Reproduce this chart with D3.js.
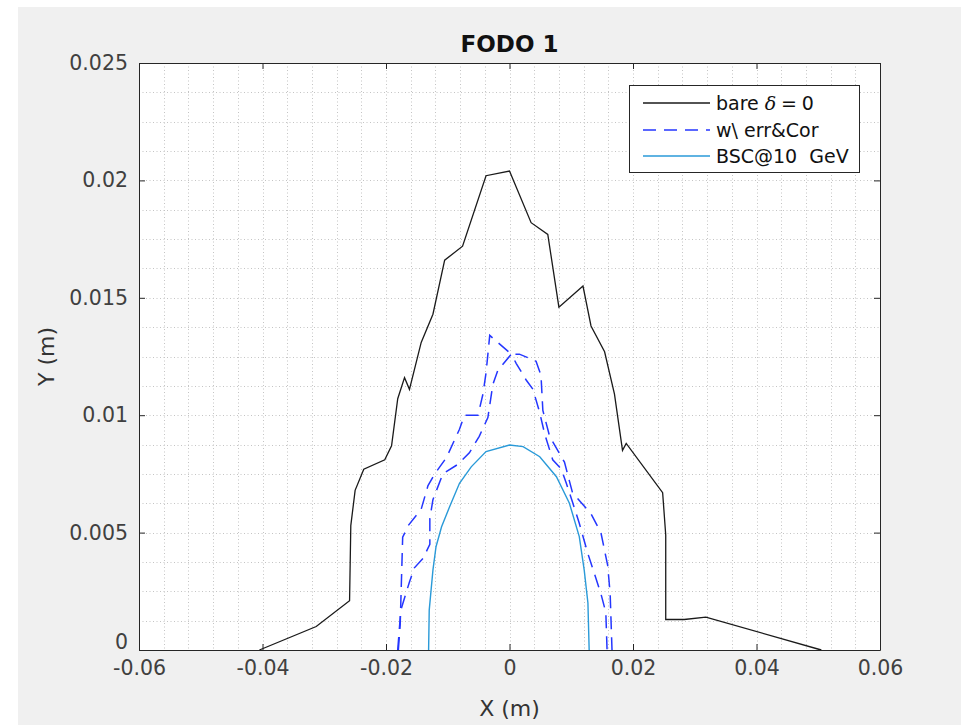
<!DOCTYPE html>
<html>
<head>
<meta charset="utf-8">
<script src="https://cdn.jsdelivr.net/npm/d3@7"></script>
<style>
  html, body { margin: 0; padding: 0; background: #ffffff; }
  svg { display: block; }
  text { font-family: "DejaVu Sans", "Liberation Sans", Arial, sans-serif; white-space: pre; }
</style>
</head>
<body>
<svg id="chart" width="961" height="725"></svg>
<script>
// ---------- data ----------
const titleText = "FODO 1";
const xLabelText = "X (m)";
const yLabelText = "Y (m)";

const xTicks = [-0.06, -0.04, -0.02, 0, 0.02, 0.04, 0.06];
const xTickLabels = ["-0.06", "-0.04", "-0.02", "0", "0.02", "0.04", "0.06"];
const yTicks = [0, 0.005, 0.01, 0.015, 0.02, 0.025];
const yTickLabels = ["0", "0.005", "0.01", "0.015", "0.02", "0.025"];

// bare delta=0
const bareX = [-0.0405, -0.0313, -0.0259, -0.0257, -0.0250, -0.0236, -0.0202, -0.0191, -0.0181, -0.0170, -0.0162, -0.0143, -0.0124, -0.0105, -0.0076, -0.0038, 0.0000, 0.0035, 0.0062, 0.0080, 0.0119, 0.0132, 0.0154, 0.0170, 0.0183, 0.0189, 0.0248, 0.0253, 0.0253, 0.0283, 0.0318, 0.0505];
const bareY = [0.0000, 0.0010, 0.0021, 0.0053, 0.0068, 0.0077, 0.0081, 0.0087, 0.0107, 0.0116, 0.0111, 0.0131, 0.0143, 0.0166, 0.0172, 0.0202, 0.0204, 0.0182, 0.0177, 0.0146, 0.0155, 0.0138, 0.0127, 0.0109, 0.0085, 0.0088, 0.0067, 0.0049, 0.0013, 0.0013, 0.0014, 0.0000];

// w\ err&Cor  (two traced contours, same series style)
const errOuterX = [-0.0180, -0.0177, -0.0173, -0.0164, -0.0143, -0.0132, -0.0121, -0.0102, -0.0081, -0.0073, -0.0051, -0.0043, -0.0038, -0.0032, 0.0003, 0.0016, 0.0043, 0.0051, 0.0054, 0.0065, 0.0089, 0.0102, 0.0132, 0.0148, 0.0159, 0.0163, 0.0166];
const errOuterY = [0.0000, 0.0011, 0.0048, 0.0053, 0.0060, 0.0070, 0.0075, 0.0082, 0.0094, 0.0100, 0.0100, 0.0109, 0.0118, 0.0134, 0.0126, 0.0126, 0.0123, 0.0117, 0.0102, 0.0091, 0.0080, 0.0067, 0.0058, 0.0050, 0.0036, 0.0024, 0.0000];
const errInnerX = [-0.0181, -0.0176, -0.0162, -0.0154, -0.0140, -0.0129, -0.0129, -0.0124, -0.0108, -0.0084, -0.0065, -0.0049, -0.0035, -0.0027, -0.0019, 0.0003, 0.0011, 0.0027, 0.0038, 0.0049, 0.0057, 0.0070, 0.0084, 0.0092, 0.0102, 0.0113, 0.0127, 0.0148, 0.0156, 0.0158];
const errInnerY = [0.0000, 0.0017, 0.0029, 0.0035, 0.0039, 0.0045, 0.0056, 0.0064, 0.0075, 0.0079, 0.0084, 0.0091, 0.0099, 0.0113, 0.0119, 0.0126, 0.0122, 0.0115, 0.0111, 0.0101, 0.0092, 0.0081, 0.0077, 0.0071, 0.0063, 0.0054, 0.0041, 0.0024, 0.0016, 0.0000];

// BSC@10 GeV
const bscX = [-0.0131, -0.0130, -0.0124, -0.0119, -0.0110, -0.0097, -0.0081, -0.0062, -0.0038, 0.0000, 0.0022, 0.0049, 0.0076, 0.0097, 0.0113, 0.0121, 0.0127, 0.0129];
const bscY = [0.0000, 0.0017, 0.0034, 0.0044, 0.00525, 0.0061, 0.0071, 0.0078, 0.00845, 0.00873, 0.00866, 0.00823, 0.00738, 0.00625, 0.00483, 0.0034, 0.0020, 0.0000];

const legendLabels = ["bare ", "w\\ err&Cor", "BSC@10  GeV"];

// ---------- layout ----------
const svg = d3.select("#chart");
const W = 961, H = 725;
const plot = { left: 139, right: 880, top: 63, bottom: 650 };

svg.append("rect").attr("x", 0).attr("y", 0).attr("width", W).attr("height", H).attr("fill", "#ffffff");
svg.append("rect").attr("x", 18).attr("y", 7).attr("width", W - 18).attr("height", H - 7).attr("fill", "#f0f0f0");

const x = d3.scaleLinear().domain([-0.06, 0.06]).range([plot.left, plot.right]);
const y = d3.scaleLinear().domain([0, 0.025]).range([plot.bottom, plot.top]);

svg.append("rect")
  .attr("x", plot.left).attr("y", plot.top)
  .attr("width", plot.right - plot.left).attr("height", plot.bottom - plot.top)
  .attr("fill", "#ffffff");

// grid (minor, dotted)
const grid = svg.append("g").attr("stroke", "#c4c4c4").attr("stroke-width", 1).attr("stroke-dasharray", "1,2.5");
d3.range(-0.06 + 0.004, 0.06 - 1e-9, 0.004).forEach(v => {
  grid.append("line").attr("x1", Math.round(x(v)) + 0.5).attr("x2", Math.round(x(v)) + 0.5)
    .attr("y1", plot.top).attr("y2", plot.bottom);
});
d3.range(0.00125, 0.025 - 1e-9, 0.00125).forEach(v => {
  grid.append("line").attr("y1", Math.round(y(v)) + 0.5).attr("y2", Math.round(y(v)) + 0.5)
    .attr("x1", plot.left).attr("x2", plot.right);
});

// axes
const axisColor = "#262626";
const xAxisB = d3.axisBottom(x).tickValues(xTicks).tickSizeInner(-6).tickSizeOuter(0).tickPadding(10)
  .tickFormat((d, i) => xTickLabels[i]);
const xAxisT = d3.axisTop(x).tickValues(xTicks).tickSizeInner(-6).tickSizeOuter(0).tickFormat("");
const yAxisL = d3.axisLeft(y).tickValues(yTicks).tickSizeInner(-6).tickSizeOuter(0).tickPadding(11)
  .tickFormat((d, i) => yTickLabels[i]);
const yAxisR = d3.axisRight(y).tickValues(yTicks).tickSizeInner(-6).tickSizeOuter(0).tickFormat("");

function styleAxis(g) {
  g.select(".domain").attr("stroke", axisColor).attr("stroke-width", 1);
  g.selectAll(".tick line").attr("stroke", axisColor);
  g.selectAll(".tick text").attr("fill", "#404040").style("font-size", "20.5px")
    .style("font-family", "'DejaVu Sans', 'Liberation Sans', sans-serif");
}

// series lines
const line = d3.line().x(d => x(d[0])).y(d => y(d[1]));
const zip = (a, b) => a.map((v, i) => [v, b[i]]);

const series = svg.append("g");
series.append("path").datum(zip(bscX, bscY)).attr("d", line)
  .attr("fill", "none").attr("stroke", "#2a9ad8").attr("stroke-width", 1.4);
[zip(errOuterX, errOuterY), zip(errInnerX, errInnerY)].forEach(pts => {
  series.append("path").datum(pts).attr("d", line)
    .attr("fill", "none").attr("stroke", "#2436ff").attr("stroke-width", 1.5)
    .attr("stroke-dasharray", "13,8");
});
series.append("path").datum(zip(bareX, bareY)).attr("d", line)
  .attr("fill", "none").attr("stroke", "#1a1a1a").attr("stroke-width", 1.3);

svg.append("g").attr("transform", `translate(0,${plot.bottom})`).call(xAxisB).call(styleAxis);
svg.append("g").attr("transform", `translate(0,${plot.top})`).call(xAxisT).call(styleAxis);
const yl = svg.append("g").attr("transform", `translate(${plot.left},0)`).call(yAxisL).call(styleAxis);
// keep the "0" label clear of the x-axis labels below it
yl.selectAll(".tick text").filter(d => d === 0).attr("dy", "-0.08em");
svg.append("g").attr("transform", `translate(${plot.right},0)`).call(yAxisR).call(styleAxis);

// title and labels
svg.append("text").attr("x", (plot.left + plot.right) / 2).attr("y", 52)
  .attr("text-anchor", "middle").attr("fill", "#111").style("font-size", "23px").style("font-weight", "bold")
  .text(titleText);
svg.append("text").attr("x", (plot.left + plot.right) / 2).attr("y", 716)
  .attr("text-anchor", "middle").attr("fill", "#333").style("font-size", "22px")
  .text(xLabelText);
svg.append("text").attr("transform", `translate(54,${(plot.top + plot.bottom) / 2}) rotate(-90)`)
  .attr("text-anchor", "middle").attr("fill", "#333").style("font-size", "22px")
  .text(yLabelText);

// legend
const lg = svg.append("g");
lg.append("rect").attr("x", 629.5).attr("y", 85.5).attr("width", 230).attr("height", 87)
  .attr("fill", "#ffffff").attr("stroke", axisColor).attr("stroke-width", 1);
const legendRows = [
  { y: 103, color: "#1a1a1a", dash: null },
  { y: 130, color: "#2436ff", dash: "13,8" },
  { y: 156, color: "#2a9ad8", dash: null }
];
legendRows.forEach((r, i) => {
  const l = lg.append("line").attr("x1", 643).attr("x2", 710).attr("y1", r.y).attr("y2", r.y)
    .attr("stroke", r.color).attr("stroke-width", 1.4);
  if (r.dash) l.attr("stroke-dasharray", r.dash);
  const t = lg.append("text").attr("x", 716).attr("y", r.y + 6.5).attr("fill", "#111")
    .attr("xml:space", "preserve").style("font-size", "19px");
  t.append("tspan").text(legendLabels[i]);
  if (i === 0) {
    t.append("tspan").style("font-family", "'DejaVu Serif', serif").style("font-style", "italic").text("\u03b4");
    t.append("tspan").text("\u2005=\u20050");
  }
});
</script>
</body>
</html>
